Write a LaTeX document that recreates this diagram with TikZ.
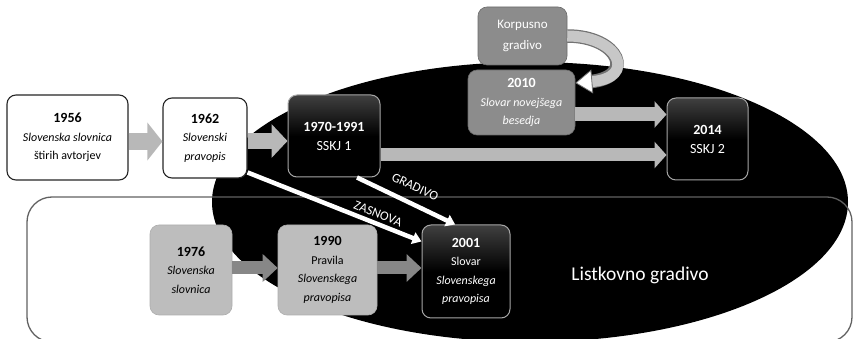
\documentclass[tikz,border=0pt]{standalone}
\usepackage{fontspec}
\setmainfont{Carlito}
\usetikzlibrary{arrows.meta,calc}
\newcommand\yearnum[1]{{\fontsize{14}{18.5}\selectfont\bfseries #1}}
\begin{document}
\begin{tikzpicture}[x=1pt,y=-1pt,
 box/.style={rounded corners=9pt, inner sep=0pt, align=center, font=\fontsize{12}{18.5}\selectfont},
 whitebox/.style={box, fill=white, draw=black!85, line width=1.1pt},
 blackbox/.style={box, top color=black!75, bottom color=black, middle color=black, draw=black!35, line width=1pt, text=white},
 midbox/.style={box, fill=black!45, draw=black!58, line width=0.6pt, text=white},
 lightbox/.style={box, fill=black!26, draw=black!32, line width=0.6pt},
 lightarrow/.style={color=black!28},
 darkarrow/.style={color=black!47, line width=13pt, -{Triangle[length=15pt,width=27pt]}},
 whitearrow/.style={white, line width=4.5pt, -{Triangle[length=9pt,width=12pt]}},
 lbl/.style={text=white, sloped, font=\fontsize{13}{13}\selectfont, inner sep=1pt},
]
\useasboundingbox (0,0) rectangle (855,339);
% background shapes
\fill[black] (530,202) ellipse [x radius=318pt, y radius=140pt];
\draw[black!62, line width=1.3pt, rounded corners=25pt] (27,197) rectangle (852,342);

% boxes
\node[whitebox, minimum width=121pt, minimum height=85pt] (y1956) at (67.5,137.5)
  {\yearnum{1956}\\\textit{Slovenska slovnica}\\štirih avtorjev};
\node[whitebox, minimum width=84pt, minimum height=80pt] (y1962) at (205,138)
  {\yearnum{1962}\\\textit{Slovenski}\\\textit{pravopis}};
\node[blackbox, minimum width=92pt, minimum height=82pt, font=\fontsize{14}{19}\selectfont] (y1970) at (334,136)
  {\textbf{1970-1991}\\SSKJ 1};
\node[midbox, minimum width=89pt, minimum height=58pt, font=\fontsize{13}{21}\selectfont] (korp) at (522.5,36)
  {Korpusno\\gradivo};
\node[midbox, minimum width=107pt, minimum height=65pt] (y2010) at (521.5,102.5)
  {\yearnum{2010}\\\textit{Slovar novejšega}\\\textit{besedja}};
\node[blackbox, minimum width=81pt, minimum height=82pt, font=\fontsize{14}{19}\selectfont] (y2014) at (707.5,139)
  {\textbf{2014}\\SSKJ 2};
\node[lightbox, minimum width=82pt, minimum height=90pt] (y1976) at (191,270)
  {\yearnum{1976}\\\textit{Slovenska}\\\textit{slovnica}};
\node[lightbox, minimum width=99pt, minimum height=90pt] (y1990) at (327.5,270)
  {\yearnum{1990}\\Pravila\\\textit{Slovenskega}\\\textit{pravopisa}};
\node[blackbox, minimum width=88pt, minimum height=93pt] (y2001) at (466,271.5)
  {\yearnum{2001}\\Slovar\\\textit{Slovenskega}\\\textit{pravopisa}};
\node[text=white, font=\fontsize{19.5}{20}\selectfont] (listk) at (640,275) {Listkovno gradivo};

% block arrows
\draw[lightarrow, line width=17pt, -{Triangle[length=15pt,width=37pt]}]
  ($(y1956.east)+(0,4)$) coordinate (a1) -- (a1 -| y1962.west);
\draw[lightarrow, line width=16pt, -{Triangle[length=16pt,width=33pt]}]
  ($(y1962.east)+(0,3)$) coordinate (a2) -- (a2 -| y1970.west);
\draw[lightarrow, line width=14pt, -{Triangle[length=12pt,width=26pt]}]
  ($(y2010.east)+(0,12)$) coordinate (a3) -- (a3 -| y2014.west);
\draw[lightarrow, line width=13pt, -{Triangle[length=12pt,width=26pt]}]
  ($(y1970.east)+(0,19)$) coordinate (a4) -- (a4 -| y2014.west);
\draw[darkarrow] ($(y1976.east)+(0,-2)$) coordinate (a5) -- (a5 -| y1990.west);
\draw[darkarrow] ($(y1990.east)+(0,-2)$) coordinate (a6) -- (a6 -| y2001.west);

% curved arrow Korpusno -> 2010
\draw[line width=13.5pt, black!55, shorten >=13pt]
  (korp.east) .. controls +(52,0) and +(62,-5) .. (y2010.20);
\draw[line width=11pt, black!22, -{Triangle[length=17pt,width=24pt,fill=white,color=black!55,line width=0.8pt]}]
  (korp.east) .. controls +(52,0) and +(62,-5) .. (y2010.20);

% white arrows
\draw[whitearrow] (y1962.-39) -- node[lbl, pos=0.73, above=2pt] {ZASNOVA} (y2001.146);
\draw[whitearrow] (y1970.-61) -- node[lbl, pos=0.52, above=9pt] {GRADIVO} (y2001.103);
\end{tikzpicture}
\end{document}
